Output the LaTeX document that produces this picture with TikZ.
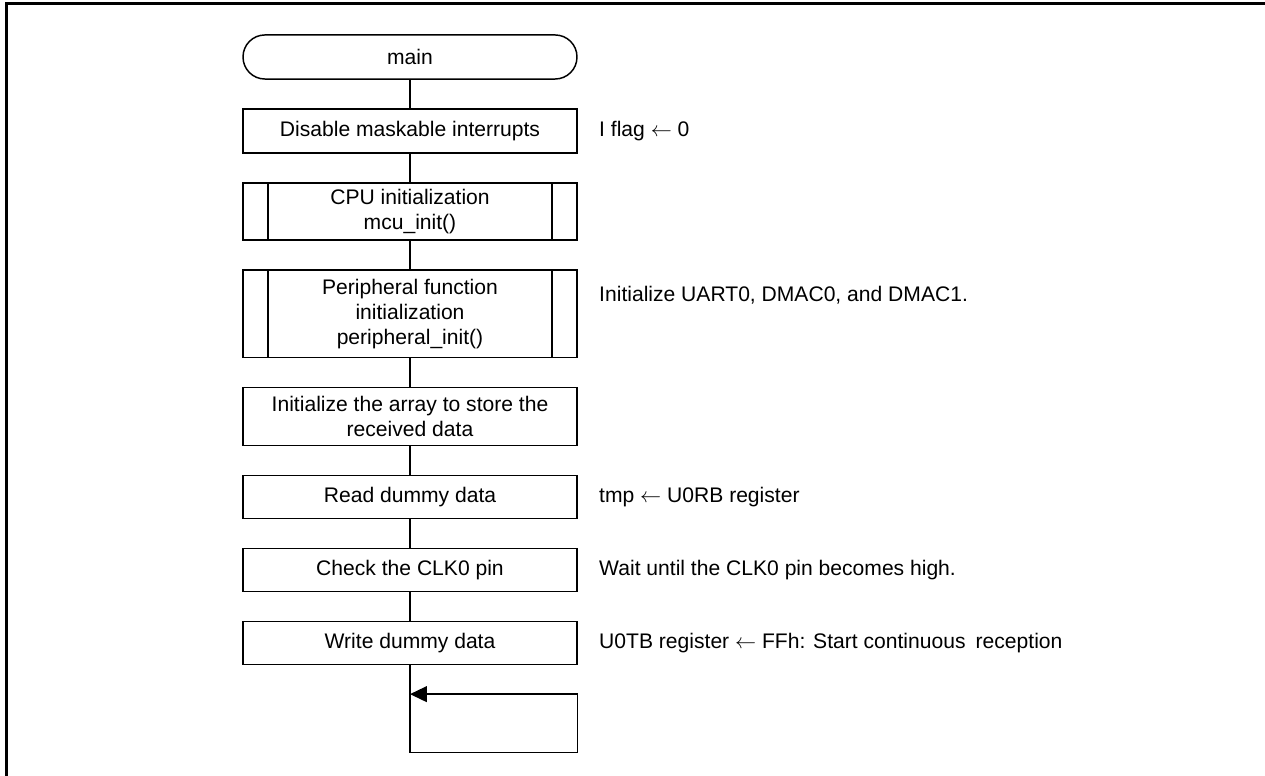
\documentclass[tikz,border=0pt]{standalone}
\usepackage{fontspec}
\setmainfont{Liberation Sans}
\usetikzlibrary{arrows.meta, positioning}

\tikzset{
  box/.style={draw, line width=0.7pt, minimum width=158.4pt, minimum height=20.4pt, align=center, inner sep=2pt},
  term/.style={box, minimum height=20.9pt, rounded corners=10.4pt},
  note/.style={anchor=west, inner sep=0pt},
}

\begin{document}
\begin{tikzpicture}[x=0.4743pt, y=-0.4743pt, node distance=13.5pt, font=\fontsize{10}{11.9}\selectfont]
    % Page frame (top and left edges only)
    \useasboundingbox (0,0) rectangle (1265,776);
    \draw[line width=1.4pt] (1265,3.3) -- (6.5,3.3) -- (6.5,776);

    % Flow
    \node[term] (main) at (410,57) {main};
    \node[box, minimum height=20.9pt, below=of main] (dis) {Disable maskable interrupts};
    \node[box, minimum height=27pt, below=of dis] (cpu) {CPU initialization\\mcu\_init()};
    \node[box, minimum height=41.7pt, below=of cpu] (peri) {Peripheral function\\initialization\\peripheral\_init()};
    \node[box, minimum height=27.5pt, below=of peri] (arr) {Initialize the array to store the\\received data};
    \node[box, below=of arr] (rd) {Read dummy data};
    \node[box, below=of rd] (chk) {Check the CLK0 pin};
    \node[box, below=of chk] (wr) {Write dummy data};

    % Sub-routine side bars
    \foreach \n in {cpu, peri} {
        \draw[line width=0.7pt] ([xshift=12.3pt]\n.north west) -- ([xshift=12.3pt]\n.south west);
        \draw[line width=0.7pt] ([xshift=-12.3pt]\n.north east) -- ([xshift=-12.3pt]\n.south east);
    }

    % Connectors
    \foreach \a/\b in {main/dis, dis/cpu, cpu/peri, peri/arr, arr/rd, rd/chk, chk/wr}
        \draw[line width=0.7pt] (\a) -- (\b);

    % Endless loop
    \coordinate[below=13.7pt of wr.south] (lpin);
    \coordinate[below=41.3pt of wr.south] (lpbot);
    \draw[line width=0.7pt, -{Triangle[length=8pt, width=7.5pt]}]
        (wr) -- (lpbot) -| (lpin -| wr.east) -- (lpin);

    % Notes
    \node[note, right=10pt of dis] (ndis) {I flag $\leftarrow$ 0};
    \node[note, right=10pt of peri, yshift=9pt] (nperi) {Initialize UART0, DMAC0, and DMAC1.};
    \node[note, right=10pt of rd] (nrd) {tmp $\leftarrow$ U0RB register};
    \node[note, right=10pt of chk] (nchk) {Wait until the CLK0 pin becomes high.};
    \node[note, right=10pt of wr] (nwr) {U0TB register $\leftarrow$ FFh: Start continuous\hspace{2pt} reception};
\end{tikzpicture}
\end{document}
